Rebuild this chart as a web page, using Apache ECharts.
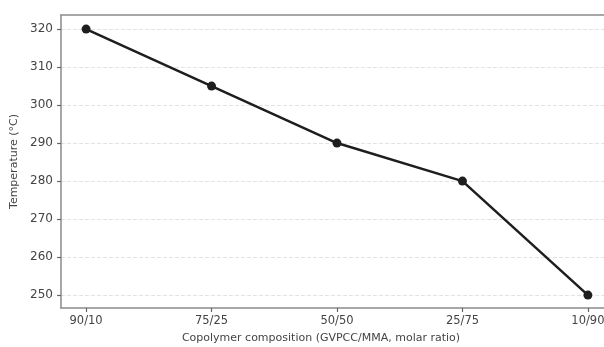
<!DOCTYPE html>
<html><head><meta charset="utf-8">
<script src="https://cdn.jsdelivr.net/npm/echarts@6/dist/echarts.min.js"></script>
<style>html,body{margin:0;padding:0;background:#fff}#c{width:604px;height:347px}</style>
</head><body><div id="c"></div>
<script>
var categories = ['90/10','75/25','50/50','25/75','10/90'];
var temperatures = [320, 305, 290, 280, 250];
var yTicks = [250, 260, 270, 280, 290, 300, 310, 320];
var xTicks = [0, 1, 2, 3, 4];

var chart = echarts.init(document.getElementById('c'), null, {renderer:'canvas'});
var font = 'DejaVu Sans';
var frame = {show: true, onZero: false, lineStyle: {color: '#8a8a8a', width: 1.5}};
chart.setOption({
  animation: false,
  backgroundColor: '#fff',
  grid: {left: 61, top: 15, width: 552, height: 293, show: false, outerBoundsMode: 'none', containLabel: false},
  xAxis: [{
    type: 'value', min: -0.2, max: 4.2, position: 'bottom',
    name: 'Copolymer composition (GVPCC/MMA, molar ratio)',
    nameLocation: 'middle', nameGap: 25,
    nameTextStyle: {fontFamily: font, fontSize: 11, color: '#444', padding: [0, 32, 0, 0]},
    axisLine: frame,
    axisTick: {show: true, customValues: xTicks, length: 4, lineStyle: {color: '#666', width: 1.2}},
    axisLabel: {customValues: xTicks, fontFamily: font, fontSize: 11.5, color: '#444', margin: 7,
      formatter: function(v){ return categories[Math.round(v)]; }},
    splitLine: {show: false}
  }, {
    type: 'value', min: -0.2, max: 4.2, position: 'top',
    axisLine: frame, axisTick: {show: false}, axisLabel: {show: false}, splitLine: {show: false}
  }],
  yAxis: {
    type: 'value', min: 246.6, max: 323.7,
    name: 'Temperature (°C)', nameLocation: 'middle', nameGap: 40,
    nameTextStyle: {fontFamily: font, fontSize: 11, color: '#444'},
    axisLine: frame,
    axisTick: {show: true, customValues: yTicks, length: 4, lineStyle: {color: '#666', width: 1.2}},
    axisLabel: {customValues: yTicks, fontFamily: font, fontSize: 12, color: '#444', margin: 8},
    splitLine: {show: true, lineStyle: {color: '#e2e2e2', type: 'dashed', width: 1}}
  },
  series: [{
    type: 'line',
    data: temperatures.map(function(v, i){ return [i, v]; }),
    symbol: 'circle', symbolSize: 9,
    lineStyle: {color: '#1e1e1e', width: 2.5},
    itemStyle: {color: '#1e1e1e'}
  }]
});
</script></body></html>
